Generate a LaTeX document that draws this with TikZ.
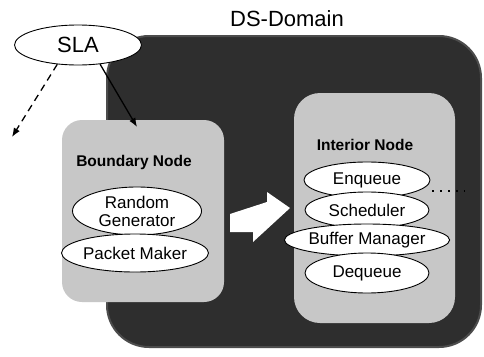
\documentclass[tikz,border=0pt]{standalone}
\usepackage{fontspec}
\setmainfont{Liberation Sans}
\usetikzlibrary{arrows.meta,shapes.geometric}
\begin{document}
\begin{tikzpicture}[x=1pt,y=-1pt,
  domainbox/.style={draw=black!70,line width=2pt,fill=black!82,rectangle,rounded corners=42pt,inner sep=0pt},
  nodebox/.style={draw=none,fill=black!22,rectangle,rounded corners=20pt,inner sep=0pt},
  oval/.style={ellipse,draw=black,line width=0.9pt,fill=white,inner sep=0pt,align=center,font=\fontsize{17}{19}\selectfont},
  boxlabel/.style={font=\fontsize{15.5}{18}\selectfont\bfseries,inner sep=0pt},
  arr/.style={line width=1.3pt,-{Latex[length=9pt,width=7pt]}}
]
\useasboundingbox (0,0) rectangle (484,356);
\fill[white] (0,0) rectangle (484,356);
% domain
\node[domainbox,minimum width=374pt,minimum height=311pt] (dom) at (294,191.5) {};
\node[font=\fontsize{22}{26}\selectfont,inner sep=0pt] (domlabel) at (287,19) {DS-Domain};
% boundary node
\node[nodebox,minimum width=162pt,minimum height=182pt] (bn) at (143,211) {};
\node[boxlabel] (bnlabel) at (134,162) {Boundary Node};
\node[oval,minimum width=129pt,minimum height=48pt] (rg) at (137,211) {Random\\[-1pt]Generator};
\node[oval,minimum width=126pt,minimum height=38pt] (pm) at (135,253) {Packet Maker};
% interior node
\node[nodebox,rounded corners=26pt,minimum width=161pt,minimum height=230pt] (in) at (374.5,208) {};
\node[boxlabel] (inlabel) at (365,145) {Interior Node};
\node[oval,minimum width=126pt,minimum height=36pt] (enq) at (367,180) {Enqueue};
\node[oval,minimum width=124pt,minimum height=36pt] (sch) at (367,210) {Scheduler};
\node[oval,minimum width=124pt,minimum height=32pt] (buf) at (367,240) {Buffer Manager};
\node[oval,minimum width=124pt,minimum height=40pt] (deq) at (367,273) {Dequeue};
% dotted line
\coordinate (dotA) at (432,191);
\coordinate (dotB) at (465,191);
\draw[line width=1.3pt,dash pattern=on 2pt off 6pt] (dotA) -- (dotB);
% white block arrow
\fill[white] (230,214) -- (267,202) -- (267,192) -- (290,208) -- (253,242) -- (253,232) -- (230,232) -- cycle;
% SLA
\node[ellipse,draw=black,line width=0.9pt,fill=white,minimum width=127pt,minimum height=40pt,inner sep=0pt,font=\fontsize{22}{26}\selectfont] (sla) at (78,45) {SLA};
\coordinate (slaend) at (137,127);
\coordinate (slaout) at (12,137);
\draw[arr] (sla.-41) -- (slaend);
\draw[arr,dash pattern=on 7pt off 5pt] (sla.-137) -- (slaout);
\end{tikzpicture}
\end{document}
